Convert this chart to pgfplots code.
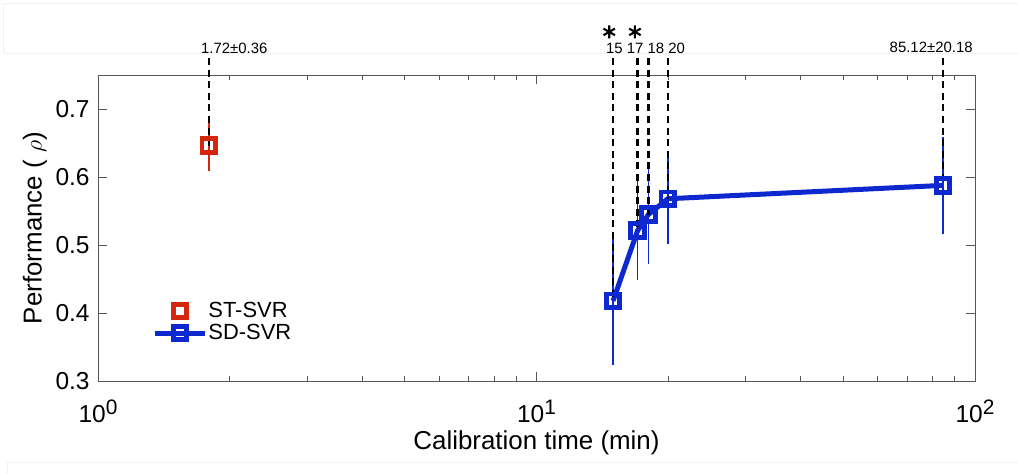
\documentclass[border=0pt]{standalone}
\usepackage{fontspec}
\setmainfont{Liberation Sans}
\usepackage{pgfplots}
\pgfplotsset{compat=1.18}
\definecolor{myred}{RGB}{212,38,12}
\definecolor{myblue}{RGB}{14,40,208}
\definecolor{axgray}{RGB}{85,85,85}
\newcommand{\tenpow}[1]{10\raisebox{4.3bp}{\fontsize{10.5}{10.5}\selectfont #1}}
\begin{document}
\begin{tikzpicture}
\useasboundingbox (-49bp,-46.5bp) rectangle (460bp,190.5bp);
\draw[gray!10, line width=0.5bp] (-47bp,163.5bp) -- (-47bp,188.5bp) -- (470bp,188.5bp);
\draw[gray!10, line width=0.5bp] (-47bp,163.5bp) -- (470bp,163.5bp);
\draw[gray!10, line width=0.5bp] (-45bp,-50bp) -- (-45bp,-40.5bp) -- (470bp,-40.5bp);
\begin{axis}[
  scale only axis, width=438.5bp, height=153bp,
  xmode=log, xmin=1, xmax=100, ymin=0.3, ymax=0.75,
  xtick={1,10,100},
  xticklabels={\tenpow{0},\tenpow{1},\tenpow{2}},
  minor xtick={2,3,4,5,6,7,8,9,20,30,40,50,60,70,80,90},
  ytick={0.3,0.4,0.5,0.6,0.7},
  yticklabels={0.3,0.4,0.5,0.6,0.7},
  tick align=inside, major tick length=4.5bp, minor tick length=2.5bp,
  axis line style={axgray, line width=0.5bp},
  every tick/.style={axgray, line width=0.5bp},
  xticklabel style={font=\fontsize{12.3}{14}\selectfont, anchor=base, inner sep=0pt, yshift=-20.8bp},
  yticklabel style={font=\fontsize{12.3}{14}\selectfont, anchor=east, inner sep=0pt, xshift=-4bp},
  xlabel={Calibration time (min)},
  ylabel={Performance ( $\rho$)},
  xlabel style={font=\fontsize{13}{15}\selectfont, at={(axis description cs:0.5,-0.2026)}, anchor=center},
  ylabel style={font=\fontsize{13}{15}\selectfont, at={(axis description cs:-0.0718,0.5)}, anchor=center, rotate=0},
  clip=false,
  legend image code/.code={\draw[mark repeat=2,mark phase=2,#1] plot coordinates {(0bp,0bp) (12.5bp,0bp) (25bp,0bp)};},
  legend style={draw=none, fill=none, at={(axis description cs:0.0616,0.266)}, anchor=north west,
    inner sep=0pt, nodes={inner sep=0.5bp, text height=8bp, text depth=2bp, font=\fontsize{11}{13}\selectfont}, row sep=0pt, column sep=0pt},
  legend cell align=left,
]
\addplot[myred, only marks, mark=square, mark size=3.4bp, mark options={line width=2.4bp, fill=white, solid},
  error bars/.cd, y dir=both, y explicit, error mark=none, error bar style={line width=0.8bp, myred}]
  coordinates {(1.79,0.6463) +- (0,0.038)};
\addlegendentry{ST-SVR}
\addplot[myblue, line width=2.5bp, mark=square, mark size=3.4bp, mark options={line width=2.4bp, fill=white, solid},
  error bars/.cd, y dir=both, y explicit, error mark=none, error bar style={line width=0.8bp, myblue}]
  coordinates {
    (14.95,0.4179) +- (0,0.094)
    (17.01,0.5214) +- (0,0.0735)
    (17.99,0.5448) +- (0,0.073)
    (19.93,0.568) +- (0,0.067)
    (84.5,0.5877) +- (0,0.071)
  };
\addlegendentry{SD-SVR}
\addplot[black, line width=1.2bp, dash pattern=on 3.5bp off 2.3bp, forget plot] coordinates {(1.79,0.7749) (1.79,0.6463)};
\addplot[black, line width=1.2bp, dash pattern=on 3.5bp off 2.3bp, forget plot] coordinates {(14.95,0.7749) (14.95,0.4179)};
\addplot[black, line width=1.2bp, dash pattern=on 3.5bp off 2.3bp, forget plot] coordinates {(17.01,0.7749) (17.01,0.5214)};
\addplot[black, line width=1.2bp, dash pattern=on 3.5bp off 2.3bp, forget plot] coordinates {(17.99,0.7749) (17.99,0.5448)};
\addplot[black, line width=1.2bp, dash pattern=on 3.5bp off 2.3bp, forget plot] coordinates {(19.93,0.7749) (19.93,0.568)};
\addplot[black, line width=1.2bp, dash pattern=on 3.5bp off 2.3bp, forget plot] coordinates {(84.5,0.7749) (84.5,0.5877)};
% significance asterisks
\addplot[black, only marks, mark=asterisk, mark size=3.3bp, mark options={line width=1.05bp}, forget plot]
  coordinates {(14.65,0.8134) (16.77,0.8134)};
\end{axis}
\node[anchor=base west, inner sep=0pt, font=\fontsize{7.5}{9}\selectfont] at (51.35bp,163.5bp) {1.72±0.36};
\node[anchor=base west, inner sep=0pt, font=\fontsize{7.5}{9}\selectfont] at (253.85bp,163.75bp) {15 17 18 20};
\node[anchor=base west, inner sep=0pt, font=\fontsize{7.5}{9}\selectfont] at (395.65bp,164.15bp) {85.12±20.18};
\end{tikzpicture}
\end{document}
